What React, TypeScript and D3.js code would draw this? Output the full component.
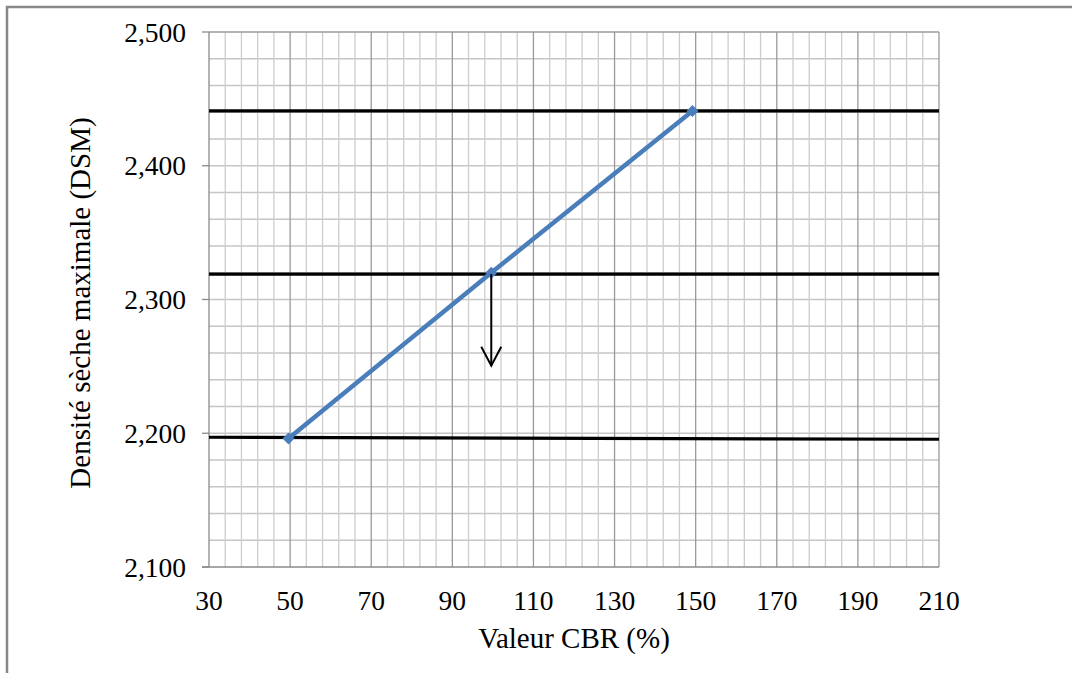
import React from "react";
import * as d3 from "d3";

const xTicks = [30, 50, 70, 90, 110, 130, 150, 170, 190, 210];
const yTicks = [2.1, 2.2, 2.3, 2.4, 2.5];
const cbr = [49.6, 99.6, 149.2];
const dsm = [2.196, 2.32, 2.441];
const refLevels: [number, number][] = [
  [2.441, 2.441],
  [2.319, 2.319],
  [2.197, 2.1955],
];
const arrowX = 99.6;
const arrowFrom = 2.319;
const arrowTo = 2.2505;

const W = 1072;
const H = 673;
const left = 209;
const right = 939;
const top = 32;
const bottom = 567;

const loc = d3.formatLocale({ decimal: ",", thousands: " ", grouping: [3], currency: ["", ""] });
const fmtY = loc.format(".3f");

export default function App() {
  const x = d3.scaleLinear().domain([30, 210]).range([left, right]);
  const y = d3.scaleLinear().domain([2.1, 2.5]).range([bottom, top]);
  const minorX = d3.range(34, 210, 4).filter((v) => (v - 30) % 20 !== 0);
  const majorX = d3.range(50, 210, 20);
  const minorY = d3.range(0, 20).map((i) => 2.1 + i * 0.02).filter((_, i) => i > 0);
  const line = d3
    .line<number>()
    .x((_, i) => x(cbr[i]))
    .y((d) => y(d));
  const font = "'Liberation Serif', 'Times New Roman', serif";
  const ax = x(arrowX);
  const ay0 = y(arrowFrom);
  const ay1 = y(arrowTo);
  return (
    <svg width={W} height={H} style={{ position: "absolute", left: 0, top: 0 }}>
      <rect x={0} y={0} width={W} height={H} fill="#fff" />
      <rect x={7} y={7} width={W + 20} height={H + 20} fill="none" stroke="#888" strokeWidth={2.5} />
      {minorY.map((v) => (
        <line key={"hy" + v} x1={left} x2={right} y1={y(v)} y2={y(v)} stroke="#c6c6c6" strokeWidth={1.3} />
      ))}
      {minorX.map((v) => (
        <line key={"mx" + v} x1={x(v)} x2={x(v)} y1={top} y2={bottom} stroke="#cdcdcd" strokeWidth={1.3} />
      ))}
      {majorX.map((v) => (
        <line key={"Mx" + v} x1={x(v)} x2={x(v)} y1={top} y2={bottom} stroke="#9a9a9a" strokeWidth={1.3} />
      ))}
      <line x1={left} x2={right} y1={top} y2={top} stroke="#9a9a9a" strokeWidth={1.3} />
      <line x1={right} x2={right} y1={top} y2={bottom} stroke="#9a9a9a" strokeWidth={1.3} />
      <line x1={left} x2={left} y1={top} y2={bottom} stroke="#8a8a8a" strokeWidth={1.3} />
      <line x1={left - 7} x2={right} y1={bottom} y2={bottom} stroke="#8a8a8a" strokeWidth={1.3} />
      {yTicks.map((v) => (
        <line key={"t" + v} x1={left - 7} x2={left} y1={y(v)} y2={y(v)} stroke="#8a8a8a" strokeWidth={1.3} />
      ))}
      {refLevels.map(([a, b], i) => (
        <line key={"r" + i} x1={x(30)} x2={x(210)} y1={y(a)} y2={y(b)} stroke="#000" strokeWidth={3.2} />
      ))}
      <path d={line(dsm) || ""} fill="none" stroke="#4a7ebb" strokeWidth={4.5} />
      {dsm.map((v, i) => {
        const cx = x(cbr[i]);
        const cy = y(v);
        const s = 6;
        return (
          <path
            key={"m" + i}
            d={`M${cx},${cy - s}L${cx + s},${cy}L${cx},${cy + s}L${cx - s},${cy}Z`}
            fill="#4a7ebb"
          />
        );
      })}
      <line x1={ax} x2={ax} y1={ay0} y2={ay1} stroke="#000" strokeWidth={2} />
      <path
        d={`M${ax - 10},${ay1 - 19}L${ax},${ay1}L${ax + 10},${ay1 - 19}`}
        fill="none"
        stroke="#000"
        strokeWidth={2}
      />
      {yTicks.map((v) => (
        <text
          key={"yl" + v}
          x={186}
          y={y(v)}
          dy="0.35em"
          textAnchor="end"
          fontFamily={font}
          fontSize={27.5}
          fill="#000"
        >
          {fmtY(v)}
        </text>
      ))}
      {xTicks.map((v) => (
        <text key={"xl" + v} x={x(v)} y={610} textAnchor="middle" fontFamily={font} fontSize={27.5} fill="#000">
          {v}
        </text>
      ))}
      <text x={(left + right) / 2} y={648} textAnchor="middle" fontFamily={font} fontSize={29} fill="#000">
        Valeur CBR (%)
      </text>
      <text
        transform={`translate(90,303) rotate(-90)`}
        textAnchor="middle"
        fontFamily={font}
        fontSize={29}
        fill="#000"
      >
        Densité sèche maximale (DSM)
      </text>
    </svg>
  );
}
